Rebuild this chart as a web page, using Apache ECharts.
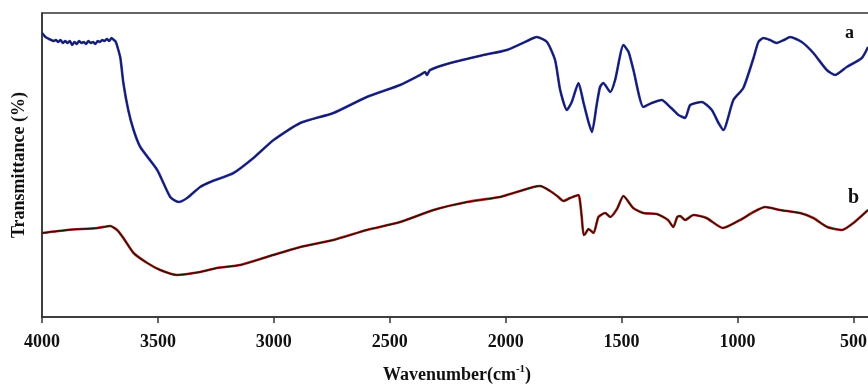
<!DOCTYPE html>
<html>
<head>
<meta charset="utf-8">
<script src="https://cdn.jsdelivr.net/npm/echarts@6/dist/echarts.min.js"></script>
<style>html,body{margin:0;padding:0;background:#fff;}#c{width:868px;height:384px;}</style>
</head>
<body>
<div id="c"></div>
<script>
// Wavenumbers (cm-1) and transmittance (arbitrary units)
var wavenumbersA = [4000,3985,3970,3960,3950,3940,3930,3920,3910,3900,3890,3880,3870,3860,3850,3840,3830,3820,3810,3800,3790,3780,3770,3760,3750,3740,3730,3720,3710,3700,3690,3684,3677,3662,3649,3628,3605,3576,3503,3447,3411,3374,3318,3274,3174,3088,3001,2886,2743,2599,2455,2369,2347,2340,2326,2239,2096,1995,1880,1866,1822,1787,1765,1736,1715,1686,1664,1643,1628,1607,1593,1579,1549,1528,1492,1470,1449,1406,1370,1327,1291,1277,1255,1226,1204,1154,1111,1082,1061,1018,975,931,910,888,860,831,800,773,723,673,615,579,529,464,437];
var transmittanceA = [284,280,278,277,276,277,275,277,274,276,274,276,272,275,273,276,274,275,273,276,274,275,273,276,275,277,276,278,276,279,277,276,272,259,234,207,187,170,147,120,115,119,130,135,144,159,177,194,204,220,232,242,245,242,247,254,262,267,279,280,275,257,227,207,215,234,214,195,185,213,230,234,225,237,272,265,247,210,214,217,210,207,202,199,212,215,207,194,187,217,229,259,275,279,277,274,277,280,275,264,247,242,250,259,270];
var wavenumbersB = [4000,3891,3760,3706,3676,3649,3605,3546,3490,3418,3318,3246,3145,3030,2886,2743,2599,2455,2311,2167,2024,1995,1880,1851,1808,1778,1751,1722,1686,1679,1672,1664,1657,1643,1621,1600,1571,1549,1520,1492,1450,1406,1348,1300,1277,1260,1248,1226,1190,1134,1063,989,931,881,816,730,673,613,549,500,437];
var transmittanceB = [84,87,89,91,87,79,64,54,47,42,45,49,52,60,70,77,87,95,107,115,120,122,130,131,126,121,116,119,122,115,100,82,83,88,84,100,104,100,108,121,109,104,103,97,90,100,101,97,102,99,89,97,105,110,107,104,99,90,87,94,107];
var tickLabels = [4000,3500,3000,2500,2000,1500,1000,500];
var curveNames = ['a','b'];

function pairs(xs, ys){ return xs.map(function(x,i){ return [x, ys[i]]; }); }
var dataA = pairs(wavenumbersA, transmittanceA);
var dataB = pairs(wavenumbersB, transmittanceB);

var serif = '"Liberation Serif","Times New Roman",serif';
var chart = echarts.init(document.getElementById('c'), null, {renderer:'canvas'});
chart.setOption({
  animation:false,
  backgroundColor:'#fff',
  grid:{left:42, right:-4, top:13, bottom:67, outerBoundsMode:'none', containLabel:false, show:true, borderColor:'#333', borderWidth:1.5},
  xAxis:{
    type:'value', inverse:true, min:420, max:4000,
    axisLine:{show:true, lineStyle:{color:'#333', width:1.5}},
    axisTick:{show:true, inside:false, length:6, customValues:tickLabels, lineStyle:{color:'#333', width:1.5}},
    axisLabel:{customValues:tickLabels, formatter:function(v){return String(v);}, margin:16, fontFamily:serif, fontWeight:'bold', fontSize:18, color:'#111'},
    splitLine:{show:false},
    name:'{t|Wavenumber(cm}{s|-1}{t|)}', nameLocation:'middle', nameGap:47,
    nameTextStyle:{rich:{
      t:{fontFamily:serif, fontWeight:'bold', fontSize:18, color:'#111', verticalAlign:'bottom', lineHeight:20},
      s:{fontFamily:serif, fontWeight:'bold', fontSize:11, color:'#111', verticalAlign:'top', lineHeight:20, padding:[0,0,8,0]}
    }}
  },
  yAxis:{
    type:'value', min:0, max:304,
    axisLine:{show:true, lineStyle:{color:'#333', width:1.5}},
    axisTick:{show:false}, axisLabel:{show:false}, splitLine:{show:false},
    name:'Transmittance (%)', nameLocation:'middle', nameGap:14, nameRotate:90,
    nameTextStyle:{fontFamily:serif, fontWeight:'bold', fontSize:18, color:'#111'}
  },
  series:[
    {type:'line', data:dataA, showSymbol:false, smooth:0.2, silent:true, lineStyle:{color:'#2a3ad0', width:2.6}},
    {type:'line', name:curveNames[0], data:dataA, showSymbol:false, smooth:0.2, lineStyle:{color:'#1a1a48', width:1.4}},
    {type:'line', data:dataB, showSymbol:false, smooth:0.2, silent:true, lineStyle:{color:'#d2281e', width:2.6}},
    {type:'line', name:curveNames[1], data:dataB, showSymbol:false, smooth:0.2, lineStyle:{color:'#221410', width:1.4}}
  ],
  graphic:[
    {type:'text', left:845, top:24, style:{text:curveNames[0], font:'bold 18px '+serif, fill:'#111'}},
    {type:'text', left:848, top:188, style:{text:curveNames[1], font:'bold 20px '+serif, fill:'#111'}}
  ]
});
</script>
</body>
</html>
